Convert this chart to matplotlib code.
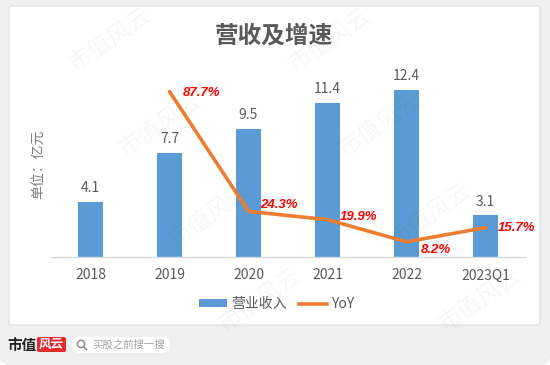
"""
Revenue and growth chart: bars for yearly revenue (亿元), line for YoY growth.
Saves out.png at 550x365.
"""

import matplotlib

matplotlib.use("Agg")
import matplotlib.pyplot as plt  # noqa: E402
from matplotlib.lines import Line2D  # noqa: E402
from matplotlib.patches import Circle, FancyBboxPatch, Patch  # noqa: E402

plt.rcParams["font.family"] = ["Noto Sans CJK SC", "DejaVu Sans"]

categories = ["2018", "2019", "2020", "2021", "2022", "2023Q1"]
revenue = [4.1, 7.7, 9.5, 11.4, 12.4, 3.1]
yoy = [None, 87.7, 24.3, 19.9, 8.2, 15.7]
yoy_labels = ["", "87.7%", "24.3%", "19.9%", "8.2%", "15.7%"]
# label offsets from each line point, in pixels (dx, dy up)
yoy_offsets = [(0, 0), (13, -1), (12, 6), (12, 3), (14, -8), (12, 0)]

BAR_COLOR = "#5b9bd5"
LINE_COLOR = "#ed7d31"
TEXT_GRAY = "#595959"

W, H = 550, 365


def px(x, y):
    """pixel position (from top-left) -> figure fraction"""
    return x / W, 1 - y / H


fig = plt.figure(figsize=(W / 100, H / 100), dpi=100)
fig.patch.set_facecolor("white")

# background: gray frame, white panel, footer
bg = fig.add_axes([0, 0, 1, 1], zorder=-1)
bg.set_xlim(0, W)
bg.set_ylim(H, 0)
bg.axis("off")
bg.add_patch(FancyBboxPatch((0, -20), W, H + 20, boxstyle="round,pad=0,rounding_size=9",
                            fc="#efefef", ec="none"))
bg.add_patch(FancyBboxPatch((9, 6), 531, 319, boxstyle="round,pad=0,rounding_size=3",
                            fc="white", ec="#dedede", lw=0.8))
bg.text(22, 345, "市值", fontsize=10.5, fontweight="bold", color="#222222",
        ha="center", va="center")
bg.add_patch(FancyBboxPatch((37, 337), 29, 15, boxstyle="round,pad=0,rounding_size=2",
                            fc="#e8282b", ec="none"))
bg.text(51.5, 344.5, "风云", fontsize=9, color="white", ha="center", va="center",
        fontweight="bold")
bg.add_patch(FancyBboxPatch((72, 337), 98, 16, boxstyle="round,pad=0,rounding_size=8",
                            fc="white", ec="none"))
bg.add_patch(Circle((81, 344), 3.6, fc="none", ec="#8a8a8a", lw=1.1))
bg.plot([83.6, 86.5], [346.6, 349.5], color="#8a8a8a", lw=1.2)
bg.text(92, 345, "买股之前搜一搜", fontsize=7.5, color="#a0a0a0", va="center")

# chart area
left, bottom = px(51, 257.3)
ax = fig.add_axes([left, bottom, 474 / W, 189 / H], zorder=1)
ax.patch.set_visible(False)
x = list(range(len(categories)))

bars = ax.bar(x, revenue, width=0.31, color=BAR_COLOR, zorder=2)
for xi, v in zip(x, revenue):
    ax.annotate(f"{v:.1f}", (xi, v), xytext=(0, 5), textcoords="offset points",
                ha="center", va="bottom", fontsize=10, color=TEXT_GRAY)

ax.set_xlim(-0.5, len(categories) - 0.5)
ax.set_ylim(0, 14)
ax.set_xticks(x)
ax.set_xticklabels(categories, fontsize=10, color=TEXT_GRAY)
ax.tick_params(axis="x", length=0, pad=8)
ax.set_yticks([])
for side in ["top", "left", "right"]:
    ax.spines[side].set_visible(False)
ax.spines["bottom"].set_color("#d9d9d9")
ax.spines["bottom"].set_linewidth(1)

ax2 = ax.twinx()
ax2.patch.set_visible(False)
ax2.set_ylim(0, 100)
ax2.set_yticks([])
for side in ["top", "left", "right", "bottom"]:
    ax2.spines[side].set_visible(False)
lx = [xi for xi, v in zip(x, yoy) if v is not None]
ly = [v for v in yoy if v is not None]
ax2.plot(lx, ly, color=LINE_COLOR, lw=2.6, solid_capstyle="round", zorder=3)
for xi, v, lab, (dx, dy) in zip(x, yoy, yoy_labels, yoy_offsets):
    if v is None:
        continue
    ax2.annotate(lab, (xi, v), xytext=(dx * 0.72, dy * 0.72), textcoords="offset points",
                 ha="left", va="center", fontsize=9.5, color="#ff0000",
                 family="Liberation Sans", fontweight="bold", fontstyle="italic")

# title and unit label
fig.text(*px(274, 35), "营收及增速", fontsize=17, fontweight="bold", color="#595959",
         ha="center", va="center")
fig.text(*px(38, 164), "单位：亿元", fontsize=10, color="#7f7f7f", rotation=90,
         ha="center", va="center")

handles = [Patch(facecolor=BAR_COLOR, edgecolor="none"),
           Line2D([0], [0], color=LINE_COLOR, lw=2.6)]
fig.legend(handles, ["营业收入", "YoY"], loc="center", bbox_to_anchor=px(277, 304),
           ncol=2, frameon=False, fontsize=10, labelcolor=TEXT_GRAY,
           handlelength=2.0, handleheight=0.5, handletextpad=0.3, columnspacing=0.9)

# faint diagonal watermarks, kept inside the frame
rows = [40, 125, 215, 300]
for r, wy in enumerate(rows):
    for c in range(-1, 4):
        wx = (110 + 50 * r) % 220 + 220 * c
        if wx < 50 or wx > 500:
            continue
        fig.text(*px(wx, wy), "市值风云", fontsize=17, color="black", alpha=0.035,
                 fontweight="light", rotation=35, ha="center", va="center", zorder=10)

fig.savefig("out.png", dpi=100)
plt.close(fig)
